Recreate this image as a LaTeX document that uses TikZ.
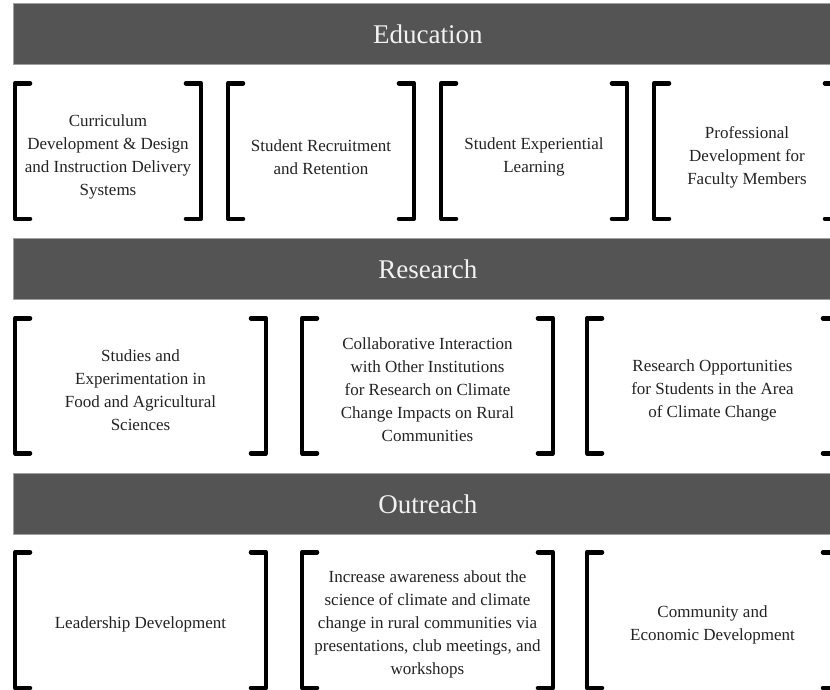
\documentclass[tikz,border=0pt]{standalone}
\usepackage{fontspec}
\setmainfont{Liberation Serif}
\usepackage{xcolor}
\definecolor{bandFill}{HTML}{545454}
\definecolor{bandEdge}{HTML}{A0A0A0}
\definecolor{bandText}{HTML}{F2F2F2}
\definecolor{itemText}{HTML}{222222}
\usetikzlibrary{positioning}
\tikzset{
    band/.style={
        fill=bandFill,
        draw=bandEdge,
        line width=0.8pt,
        rectangle,
        anchor=north west,
        minimum width=829pt,
        minimum height=61pt,
        inner sep=0pt,
        text=bandText,
        font=\fontsize{27}{30}\selectfont
    },
    item/.style={
        rectangle,
        inner sep=0pt,
        align=center,
        text=itemText,
        font=\fontsize{17}{23}\selectfont
    },
    narrow/.style={item, minimum width=185.5pt},
    wide/.style={item, minimum width=250.5pt},
    bracket/.style={
        draw=black,
        line width=4.5pt,
        line cap=round,
        line join=round
    }
}
\begin{document}
\begin{tikzpicture}[x=1pt,y=-1pt]
    \clip (0,0) rectangle (830,689);

    % Bands
    \node[band] (education) at (13,3) {Education};
    \node[band] (research) at (13,238) {Research};
    \node[band] (outreach) at (13,473) {Outreach};

    % Bracket tops and bottoms
    \coordinate (t1) at (0,83.25);
    \coordinate (b1) at (0,218.75);
    \coordinate (t2) at (0,318.25);
    \coordinate (b2) at (0,453.25);
    \coordinate (t3) at (0,552.25);
    \coordinate (b3) at (0,688);

    % Education items
    \node[narrow] (curriculum) at (108,157) {Curriculum\\Development \& Design\\and Instruction Delivery\\Systems};
    \node[narrow] (recruit) at (321,157) {Student Recruitment\\and Retention};
    \node[narrow] (learning) at (534,157) {Student Experiential\\Learning};
    \node[narrow] (faculty) at (747,157) {Professional\\Development for\\Faculty Members};

    % Research items
    \node[wide] (studies) at (140.5,390) {Studies and\\Experimentation in\\Food and Agricultural\\Sciences};
    \node[wide] (collab) at (427.5,390) {Collaborative Interaction\\with Other Institutions\\for Research on Climate\\Change Impacts on Rural\\Communities};
    \node[wide] (students) at (712.5,390) {Research Opportunities\\for Students in the Area\\of Climate Change};

    % Outreach items
    \node[wide] (leader) at (140.5,624.5) {Leadership Development};
    \node[wide] (aware) at (427.5,624.5) {Increase awareness about the\\science of climate and climate\\change in rural communities via\\presentations, club meetings, and\\workshops};
    \node[wide] (community) at (712.5,624.5) {Community and\\Economic Development};

    % Brackets
    \foreach \n/\r in {curriculum/1,recruit/1,learning/1,faculty/1,studies/2,collab/2,students/2,leader/3,aware/3,community/3}
        \draw[bracket] ([xshift=15pt]\n.west |- t\r) -| (\n.west |- b\r) -- ++(15pt,0pt)
                       ([xshift=-15pt]\n.east |- t\r) -| (\n.east |- b\r) -- ++(-15pt,0pt);
\end{tikzpicture}
\end{document}
